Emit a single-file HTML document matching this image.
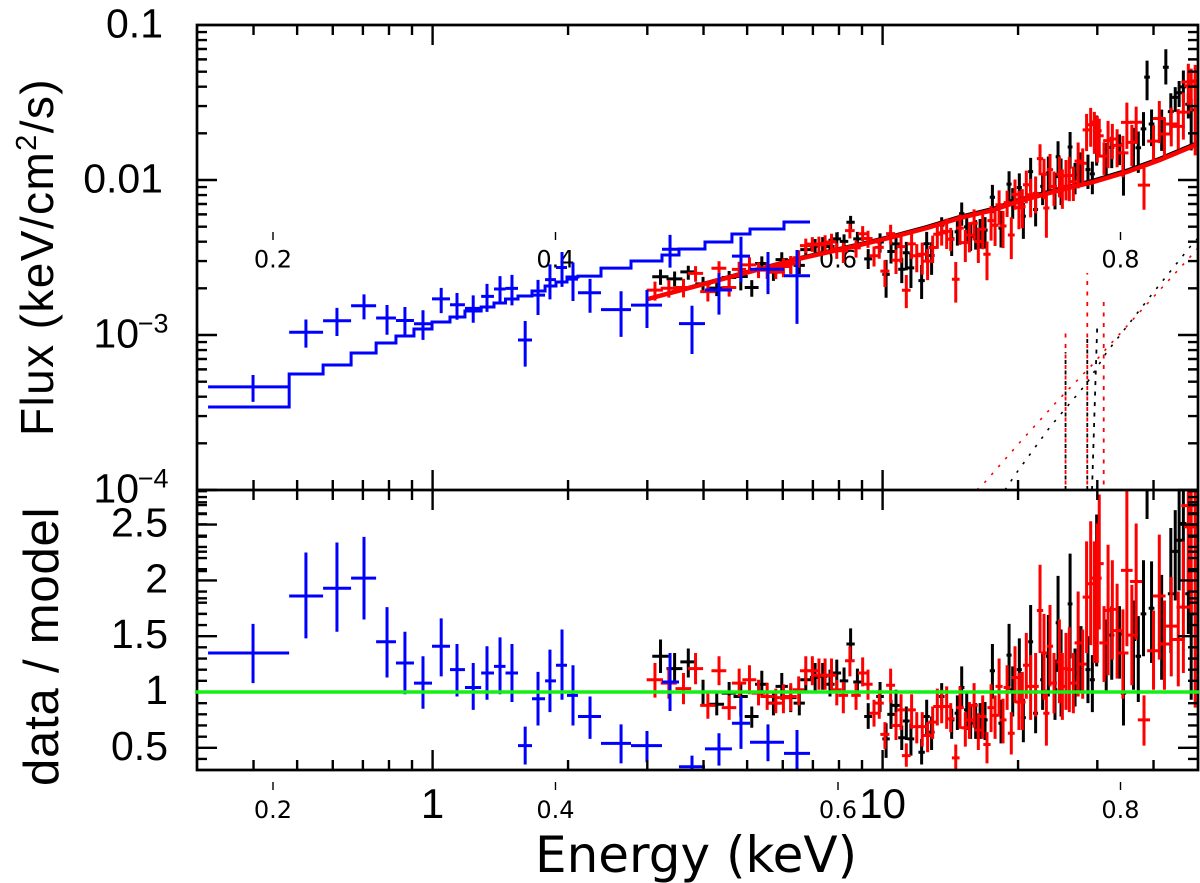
<!DOCTYPE html>
<html lang="en">
<head>
<meta charset="utf-8">
<title>X-ray spectrum: flux and data/model ratio</title>
<style>
html,body{margin:0;padding:0;background:#fff;}
svg{display:block;}
text{fill:#000;}
.t{font-family:"Liberation Sans",sans-serif;}
.d{font-family:"DejaVu Sans",sans-serif;}
</style>
</head>
<body>
<svg id="chart" xmlns="http://www.w3.org/2000/svg" width="1200" height="883" viewBox="0 0 1200 883">
  <defs>
    <clipPath id="clipFlux"><rect x="197" y="25" width="1001" height="465"/></clipPath>
    <clipPath id="clipRatio"><rect x="197" y="490" width="1001" height="280"/></clipPath>
  </defs>
  <rect x="0" y="0" width="1200" height="883" fill="#fff"/>
  <g id="labels"></g>
  <g id="fluxMarks" clip-path="url(#clipFlux)"></g>
  <g id="ratioMarks" clip-path="url(#clipRatio)"></g>
  <g id="axes"></g>
  <text class="t" font-size="46" letter-spacing="1.4" transform="translate(53,436) rotate(-90)">Flux (keV/cm<tspan font-size="29" dy="-17">2</tspan><tspan dy="17">/s)</tspan></text>
  <text class="t" font-size="49" letter-spacing="0.8" transform="translate(58,786) rotate(-90)">data / model</text>
  <text class="d" font-size="50" x="535" y="872">Energy (keV)</text>
</svg>
<script>
/* ---------- axis tick values and labels ---------- */
const xMinorTicks = [0.4,0.5,0.6,0.7,0.8,0.9,2,3,4,5,6,7,8,9,20,30,40];
const xMajorTicks = [1,10];
const xMajorLabels = ["1","10"];
const secondaryLabels = ["0.2","0.4","0.6","0.8"];
const fluxDecades = [-1,-2,-3,-4];
const fluxDecadeMantissa = ["0.1","0.01","10","10"];
const fluxDecadeExponent = ["","","\u22123","\u22124"];
const fluxMinorMultipliers = [2,3,4,5,6,7,8,9];
const ratioMajorTicks = [0.5,1,1.5,2,2.5];
const ratioMajorLabels = ["0.5","1","1.5","2","2.5"];
const ratioMinorTicks = [0.4,0.6,0.7,0.8,0.9,1.1,1.2,1.3,1.4,1.6,1.7,1.8,1.9,2.1,2.2,2.3,2.4,2.6,2.7,2.8];

/* ---------- blue (soft X-ray) spectrum ---------- */
const blueEdges = [0.317,0.480,0.571,0.659,0.749,0.829,0.909,0.997,1.093,1.180,1.282,1.369,1.452,1.548,1.663,1.778,1.880,1.989,2.104,2.367,2.760,3.234,3.528,4.030,4.626,5.074,6.038,6.898];
const blueEnergy = [0.399,0.523,0.613,0.704,0.792,0.868,0.952,1.045,1.133,1.231,1.321,1.412,1.501,1.606,1.715,1.823,1.939,2.051,2.238,2.623,2.995,3.370,3.771,4.329,4.845,5.563,6.453];
const blueRatio = [1.35,1.86,1.93,2.02,1.45,1.26,1.08,1.41,1.20,1.04,1.17,1.23,1.17,0.52,0.94,1.10,1.24,0.97,0.78,0.54,0.52,1.09,0.33,0.49,0.72,0.55,0.45];
const blueRatioHi = [1.61,2.25,2.34,2.39,1.76,1.54,1.32,1.66,1.43,1.26,1.41,1.49,1.43,0.69,1.18,1.38,1.56,1.24,0.96,0.71,0.65,1.35,0.43,0.63,0.96,0.71,0.66];
const blueRatioLo = [1.08,1.48,1.54,1.65,1.13,0.98,0.85,1.14,0.96,0.84,0.93,0.98,0.91,0.35,0.70,0.82,0.93,0.70,0.58,0.36,0.37,0.83,0.21,0.34,0.49,0.38,0.22];
const blueModel = [3.43e-4,5.60e-4,6.40e-4,7.65e-4,8.88e-4,9.85e-4,1.094e-3,1.213e-3,1.306e-3,1.429e-3,1.517e-3,1.61e-3,1.707e-3,1.785e-3,1.923e-3,2.07e-3,2.198e-3,2.366e-3,2.40e-3,2.70e-3,3.0e-3,3.28e-3,3.59e-3,3.98e-3,4.48e-3,4.83e-3,5.36e-3];

/* ---------- hard X-ray models ---------- */
const modelEnergy = [3.01,3.93,5.15,6.65,8.91,10.55,12.55,14.86,17.6,20.2,24.8,29.35,34.9,41.3,50.2];
const redModel = [1.707e-3,2.10e-3,2.59e-3,3.14e-3,3.81e-3,4.29e-3,4.90e-3,5.69e-3,6.40e-3,7.33e-3,8.61e-3,9.70e-3,1.127e-2,1.345e-2,1.706e-2];
const blackModel = [1.71e-3,2.11e-3,2.61e-3,3.17e-3,3.86e-3,4.35e-3,4.98e-3,5.79e-3,6.52e-3,7.48e-3,8.79e-3,9.90e-3,1.150e-2,1.372e-2,1.740e-2];

/* ---------- fractional half-width of the hard X-ray bins ---------- */
const binEnergy = [3,5,8,14,25,35,50];
const redBinHalfFraction = [0.042,0.036,0.025,0.02,0.015,0.03,0.036];
const blackBinHalfFraction = [0.042,0.036,0.022,0.014,0.012,0.014,0.016];

/* ---------- red flux excess over the ratio near the emission lines ---------- */
const redLineExcessEnergy = [27.5,28.2,29.6,30.1,30.4,31.2];
const redLineExcess = [1,1.2,1.2,1,0.85,1];

/* ---------- black spectrum ---------- */
const blackEnergy = [3.21,3.45,3.70,3.99,4.28,4.56,4.84,5.12,5.39,5.72,5.97,6.25,6.53,6.75,7.08,7.36,7.64,7.91,8.21,8.49,8.79,9.29,9.87,10.18,10.44,10.71,11.03,11.29,11.56,12.21,12.53,12.85,13.53,14.24,14.66,14.99,15.38,15.69,16.1,16.47,16.89,17.54,18.33,19.1,19.46,20.13,20.55,21.33,21.88,22.68,23.35,24.16,24.54,24.92,26.1,26.77,27.6,28.6,29.25,29.9,31.4,32.3,33.6,34.3,36.1,37.0,38.0,38.7,39.6,41.7,42.6,43.7,44.7,45.6,46.6,47.8,48.5];
const blackRatio = [1.32,1.21,1.27,1.00,0.89,0.99,0.96,0.78,1.07,0.90,1.05,0.95,0.90,1.11,1.13,1.14,1.07,1.17,1.10,1.43,1.09,0.78,0.96,0.58,0.80,0.88,0.59,0.74,0.58,0.46,0.78,0.64,0.96,0.75,0.81,1.04,0.84,0.72,0.75,0.75,0.75,1.19,0.72,1.33,1.02,1.20,0.77,1.45,0.81,1.11,1.32,1.02,1.62,1.26,1.79,1.17,1.38,1.20,1.11,2.02,1.35,1.51,1.52,0.99,1.47,1.32,1.70,3.60,1.75,1.59,3.75,1.88,2.26,2.36,2.51,1.88,1.70];
const blackRatioHi = [1.47,1.35,1.39,1.11,0.99,1.09,1.08,0.87,1.19,0.99,1.17,1.05,0.99,1.21,1.26,1.26,1.20,1.29,1.22,1.57,1.21,0.90,1.09,0.72,0.93,1.02,0.70,0.87,0.72,0.58,0.93,0.78,1.08,0.85,0.97,1.23,0.99,0.88,0.90,0.90,0.91,1.43,0.93,1.61,1.23,1.48,0.94,1.78,1.02,1.35,1.69,1.29,2.04,1.56,2.24,1.39,1.59,1.50,1.33,2.59,1.65,1.77,1.77,1.35,1.82,1.68,2.18,4.60,2.17,2.05,4.90,2.47,2.63,2.81,3.20,2.20,2.00];
const blackRatioLo = [1.17,1.08,1.13,0.88,0.79,0.87,0.78,0.68,0.96,0.79,0.93,0.82,0.79,0.99,1.01,1.02,0.96,1.03,0.99,1.29,0.96,0.67,0.82,0.41,0.67,0.72,0.48,0.57,0.43,0.35,0.61,0.48,0.84,0.58,0.66,0.87,0.66,0.58,0.58,0.58,0.57,0.94,0.54,1.02,0.78,0.90,0.55,1.08,0.63,0.84,0.96,0.75,1.18,0.78,1.30,0.87,0.99,0.90,0.82,1.23,0.99,1.11,1.12,0.70,1.02,0.91,1.32,2.55,1.26,1.11,2.90,1.35,1.82,1.91,2.00,1.52,0.93];

/* ---------- red spectrum ---------- */
const redEnergy = [3.12,3.35,3.61,3.84,4.09,4.33,4.56,4.80,5.06,5.30,5.54,5.79,6.02,6.25,6.51,6.75,6.98,7.22,7.45,7.70,7.91,8.18,8.46,8.73,9.03,9.28,9.57,9.83,10.12,10.42,10.71,10.99,11.29,11.60,11.91,12.25,12.59,12.92,13.23,13.53,13.88,14.17,14.54,14.86,15.27,15.59,15.97,16.32,16.69,17.06,17.42,17.78,18.15,18.52,18.91,19.32,19.69,20.09,20.44,20.86,21.33,21.88,22.38,22.84,23.12,23.55,24.04,24.71,25.09,25.56,26.0,26.54,27.2,27.84,28.4,29.0,29.55,30.0,30.3,31.05,31.7,32.4,33.2,34.2,34.9,35.8,36.6,38.1,40.0,41.2,42.3,43.8,45.4,46.6,47.8,48.5,49.5];
const redRatio = [1.11,1.08,1.03,1.21,0.88,1.19,0.86,1.08,1.11,0.99,0.96,0.90,0.95,0.96,1.02,1.19,1.19,1.15,1.15,1.15,1.02,0.97,1.28,0.97,1.17,1.07,0.81,0.90,0.62,1.06,0.70,0.84,0.43,0.84,0.69,0.69,0.61,0.73,0.87,0.87,0.87,0.76,0.41,0.86,0.68,0.75,0.88,0.66,0.78,0.53,0.86,0.79,1.05,0.75,1.04,0.63,1.13,0.91,0.91,1.24,1.05,1.05,1.73,1.35,0.81,1.41,1.08,1.27,1.05,1.21,1.20,1.08,1.44,1.25,1.85,1.97,2.02,2.02,2.15,1.44,1.73,1.74,1.55,1.35,2.09,1.51,1.99,0.75,1.37,1.86,1.43,1.59,1.47,1.76,2.67,2.48,2.60];
const redRatioHi = [1.26,1.22,1.17,1.35,0.99,1.32,0.97,1.21,1.24,1.11,1.08,1.03,1.07,1.08,1.14,1.32,1.32,1.30,1.30,1.30,1.11,1.09,1.41,1.08,1.31,1.20,0.93,1.02,0.73,1.21,0.82,0.98,0.54,0.98,0.82,0.82,0.73,0.87,1.03,1.02,1.05,0.90,0.53,1.05,0.82,0.91,1.08,0.81,0.97,0.64,1.07,0.97,1.30,0.94,1.24,0.82,1.41,1.17,1.18,1.53,1.33,1.35,2.14,1.70,1.02,1.78,1.35,1.65,1.35,1.53,1.58,1.35,1.90,1.56,2.35,2.53,2.35,2.51,2.77,1.77,2.32,2.18,1.97,1.74,2.80,1.96,2.51,0.97,1.73,2.41,1.82,2.03,1.90,2.35,3.50,3.20,3.30];
const redRatioLo = [0.95,0.94,0.89,1.07,0.76,1.06,0.75,0.96,0.98,0.88,0.84,0.81,0.81,0.83,0.88,1.06,1.06,1.02,1.02,1.02,0.88,0.81,1.14,0.84,1.05,0.93,0.69,0.76,0.49,0.90,0.57,0.66,0.33,0.67,0.54,0.51,0.46,0.58,0.70,0.72,0.67,0.64,0.29,0.67,0.51,0.58,0.68,0.48,0.58,0.36,0.64,0.58,0.78,0.54,0.84,0.44,0.90,0.66,0.66,0.94,0.75,0.78,1.35,0.93,0.52,1.05,0.81,0.90,0.75,0.84,0.82,0.81,0.96,0.94,1.35,1.42,1.26,1.26,1.56,1.09,1.15,1.29,1.12,0.94,1.41,1.06,1.47,0.52,1.02,1.29,1.02,1.14,1.05,1.17,1.90,1.70,0.86];

/* ---------- dotted model components ---------- */
const blackPowerEnergy = [18.7,19.9,23.55,28.45,31.5,39.9,48.2,50.2];
const blackPowerFlux = [1e-4,1.306e-4,2.55e-4,4.90e-4,7.76e-4,1.87e-3,3.70e-3,4.22e-3];
const redPowerEnergy = [16.2,16.9,20.4,24.8,29.2,31.5,37.3,42.9,48.2,50.2];
const redPowerFlux = [1e-4,1.127e-4,2.10e-4,3.92e-4,6.40e-4,8.24e-4,1.41e-3,2.20e-3,3.18e-3,3.64e-3];
const blackLineBase = [25.5,28.5,29.2];
const blackLineTop = [25.5,28.5,30.0];
const blackLinePeak = [7.76e-4,1.03e-3,1.19e-3];
const redLineEnergy = [25.5,28.5,31.0];
const redLinePeak = [1.109e-3,2.51e-3,1.76e-3];
const fluxFloor = 1e-4;

/* ---------- scales ---------- */
const X0 = 432.6, XDEC = 450;
const PL = 197, PR = 1198, PT = 25, PM = 490, PB = 770;
const YTOP = 25, YDEC = 155;
const R1 = 692, RUNIT = 111.6;
function xOf(e){ return X0 + XDEC * Math.log10(e); }
function yFlux(f){ return YTOP + YDEC * (-1 - Math.log10(f)); }
function yRatio(r){ return R1 - RUNIT * (r - 1); }
function interpLog(xs, ys, v){
  const lv = Math.log10(v);
  let i = 0;
  while (i < xs.length - 2 && v > xs[i + 1]) i++;
  const a = Math.log10(xs[i]), b = Math.log10(xs[i + 1]);
  const t = (lv - a) / (b - a);
  return Math.pow(10, Math.log10(ys[i]) + t * (Math.log10(ys[i + 1]) - Math.log10(ys[i])));
}
function interpLin(xs, ys, v){
  if (v <= xs[0]) return ys[0];
  if (v >= xs[xs.length - 1]) return ys[ys.length - 1];
  let i = 0;
  while (v > xs[i + 1]) i++;
  return ys[i] + (v - xs[i]) / (xs[i + 1] - xs[i]) * (ys[i + 1] - ys[i]);
}
const NS = 'http://www.w3.org/2000/svg';
function pathEl(parent, d, stroke, width){
  const p = document.createElementNS(NS, 'path');
  p.setAttribute('d', d);
  p.setAttribute('fill', 'none');
  p.setAttribute('stroke', stroke);
  p.setAttribute('stroke-width', width);
  parent.appendChild(p);
  return p;
}
function textEl(parent, cls, size, x, y, anchor, str){
  const t = document.createElementNS(NS, 'text');
  t.setAttribute('class', cls);
  t.setAttribute('font-size', size);
  t.setAttribute('x', x);
  t.setAttribute('y', y);
  t.setAttribute('text-anchor', anchor);
  t.textContent = str;
  parent.appendChild(t);
  return t;
}
const labels = document.getElementById('labels');
const axes = document.getElementById('axes');
const fluxMarks = document.getElementById('fluxMarks');
const ratioMarks = document.getElementById('ratioMarks');

/* ---------- secondary (small) labels in both panels ---------- */
const secondaryX = [273,555.5,838,1120.5];
secondaryLabels.forEach(function(s, i){
  const xp = secondaryX[i];
  const a = textEl(labels, 'd', 24, xp, 267.5, 'middle', s);
  
  
  const b = textEl(labels, 'd', 24, xp, 818, 'middle', s);
  
  
  const c = pathEl(labels, 'M' + xp + ' 232V240M' + xp + ' 782V790', '#000', 1.4);
  
  
});

/* ---------- ticks and tick labels ---------- */
function xTick(e, len){
  const xp = xOf(e);
  return 'M' + xp + ' ' + PT + 'v' + len + 'M' + xp + ' ' + PM + 'v' + (-len) +
         'M' + xp + ' ' + PM + 'v' + len + 'M' + xp + ' ' + PB + 'v' + (-len);
}
function yTick(yp, len){
  return 'M' + PL + ' ' + yp + 'h' + len + 'M' + PR + ' ' + yp + 'h' + (-len);
}
let tickD = '';
xMinorTicks.forEach(function(e){ tickD += xTick(e, 10); });
xMajorTicks.forEach(function(e){ tickD += xTick(e, 20); });
fluxDecades.forEach(function(d){
  if (d > -4) tickD += yTick(yFlux(Math.pow(10, d - 1)), 20);
  fluxMinorMultipliers.forEach(function(m){
    if (d > -1) return;
    tickD += yTick(yFlux(m * Math.pow(10, d - 1)), 10);
  });
});
ratioMajorTicks.forEach(function(r){ tickD += yTick(yRatio(r), 20); });
ratioMinorTicks.forEach(function(r){ tickD += yTick(yRatio(r), 10); });
const tickPath = pathEl(axes, tickD, '#000', 2.4);



xMajorTicks.forEach(function(e, i){
  const t = textEl(axes, 't', 42, xOf(e), 818, 'middle', xMajorLabels[i]);
  
  
});
fluxDecades.forEach(function(d, i){
  const yb = yFlux(Math.pow(10, d)) + 12.5;
  const hasExp = fluxDecadeExponent[i] !== '';
  const t = textEl(axes, 't', 41, hasExp ? 139 : 163, yb, 'end', fluxDecadeMantissa[i]);
  
  
  if (hasExp) {
    const ex = textEl(axes, 't', 27, 168.5, yb - 15, 'end', fluxDecadeExponent[i]);
    
    
  }
});
ratioMajorTicks.forEach(function(r, i){
  const t = textEl(axes, 't', 41, 168, yRatio(r) + 12, 'end', ratioMajorLabels[i]);
  
  
});

/* ---------- frames ---------- */
const frame = pathEl(axes, 'M' + PL + ' ' + PT + 'H' + PR + 'V' + PB + 'H' + PL + 'ZM' + PL + ' ' + PM + 'H' + PR, '#000', 2.7);



/* ---------- data marks ---------- */
function crossPath(xlo, xhi, xc, yc, yhi, ylo){
  return 'M' + xlo + ' ' + yc + 'H' + xhi + 'M' + xc + ' ' + yhi + 'V' + ylo;
}
function drawHardSeries(energy, ratio, hi, lo, model, fractions, excessE, excess, color){
  energy.forEach(function(e, i){
    const frac = interpLin(binEnergy, fractions, e);
    const xlo = xOf(e * (1 - frac)), xhi = xOf(e * (1 + frac)), xc = xOf(e);
    const m = interpLog(modelEnergy, model, e) * (excessE.length ? interpLin(excessE, excess, e) : 1);
    const a = pathEl(fluxMarks, crossPath(xlo, xhi, xc, yFlux(m * ratio[i]), yFlux(m * hi[i]), yFlux(m * lo[i])), color, 3);
    
    
    const b = pathEl(ratioMarks, crossPath(xlo, xhi, xc, yRatio(ratio[i]), yRatio(hi[i]), yRatio(lo[i])), color, 3);
    
    
  });
}
function drawModelCurve(model, color, width){
  const d = modelEnergy.map(function(e, i){
    return (i ? 'L' : 'M') + xOf(e) + ' ' + yFlux(model[i]);
  }).join('');
  const c = pathEl(fluxMarks, d, color, width);
  
  
}
function drawComponents(powerE, powerF, base, top, peak, color, phase){
  const d = powerE.map(function(e, i){
    return (i ? 'L' : 'M') + xOf(e) + ' ' + yFlux(powerF[i]);
  }).join('');
  const c = pathEl(fluxMarks, d, color, 1.6);
  c.setAttribute('stroke-dasharray', '2.5 8');
  
  
  base.forEach(function(e, i){
    const g = pathEl(fluxMarks, 'M' + xOf(e) + ' ' + yFlux(fluxFloor) + 'L' + xOf(top[i]) + ' ' + yFlux(peak[i]), color, 1.8);
    g.setAttribute('stroke-dasharray', '4 6.5');
    g.setAttribute('stroke-dashoffset', phase);
    
    
  });
}

drawComponents(blackPowerEnergy, blackPowerFlux, blackLineBase, blackLineTop, blackLinePeak, '#000', 0);
drawComponents(redPowerEnergy, redPowerFlux, redLineEnergy, redLineEnergy, redLinePeak, '#f00', 5);
drawHardSeries(blackEnergy, blackRatio, blackRatioHi, blackRatioLo, blackModel, blackBinHalfFraction, [], [], '#000');
drawModelCurve(blackModel, '#000', 4);
drawHardSeries(redEnergy, redRatio, redRatioHi, redRatioLo, redModel, redBinHalfFraction, redLineExcessEnergy, redLineExcess, '#f00');
drawModelCurve(redModel, '#f00', 4.5);

/* blue model step line and points */
let stepD = 'M' + xOf(blueEdges[0]) + ' ' + yFlux(blueModel[0]);
blueModel.forEach(function(f, i){
  stepD += 'V' + yFlux(f) + 'H' + xOf(blueEdges[i + 1]);
});
const stepLine = pathEl(fluxMarks, stepD, '#0000ff', 3);


blueEnergy.forEach(function(e, i){
  const xlo = xOf(blueEdges[i]), xhi = xOf(blueEdges[i + 1]), xc = xOf(e);
  const m = blueModel[i];
  const a = pathEl(fluxMarks, crossPath(xlo, xhi, xc, yFlux(m * blueRatio[i]), yFlux(m * blueRatioHi[i]), yFlux(m * blueRatioLo[i])), '#0000ff', 3);
  
  
  const b = pathEl(ratioMarks, crossPath(xlo, xhi, xc, yRatio(blueRatio[i]), yRatio(blueRatioHi[i]), yRatio(blueRatioLo[i])), '#0000ff', 3);
  
  
});

/* unity line */
const unity = pathEl(axes, 'M' + (PL - 2) + ' ' + yRatio(1) + 'H' + (PR + 1), '#14f014', 3.4);


</script>
</body>
</html>
